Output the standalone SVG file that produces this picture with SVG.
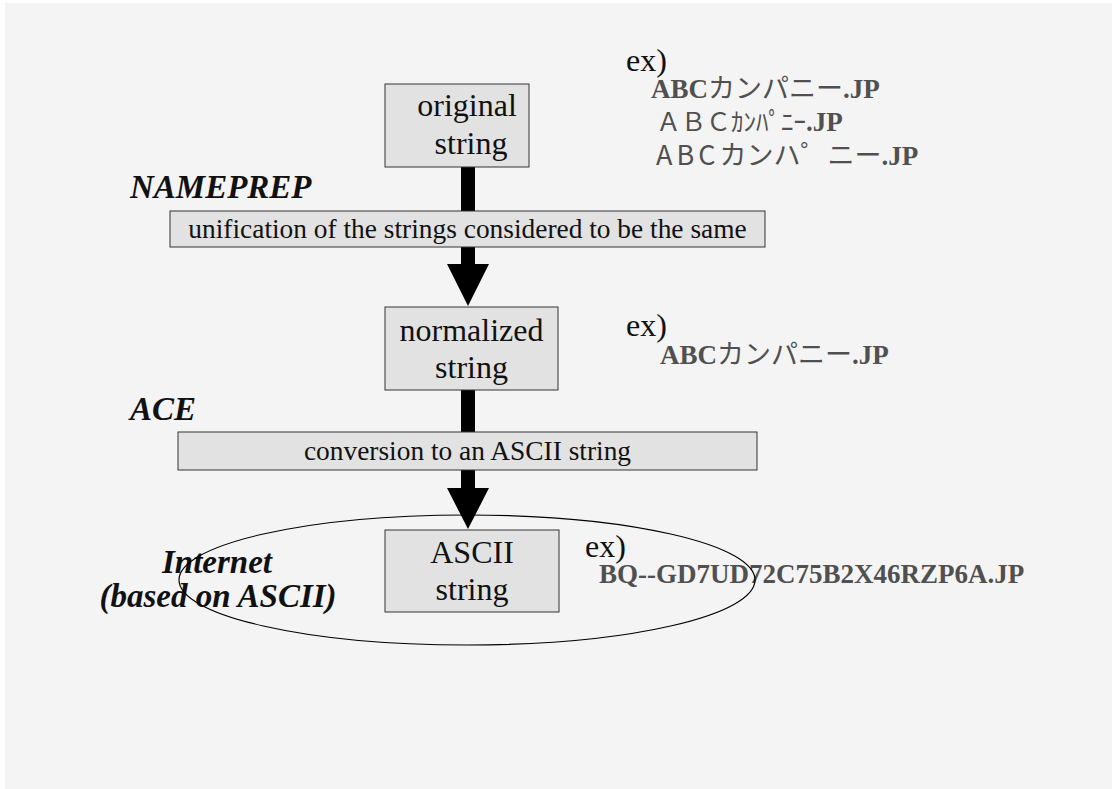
<svg xmlns="http://www.w3.org/2000/svg" width="1112" height="789" viewBox="0 0 1112 789">
  <style>
    .bg { fill: #f4f4f4; }
    .box { fill: #e2e2e2; stroke: #333333; stroke-width: 1; }
    .lbl { font-family: "Liberation Serif", "Times New Roman", serif; font-size: 32px; fill: #111111; }
    .bar { font-family: "Liberation Serif", "Times New Roman", serif; font-size: 27.4px; fill: #111111; }
    .step { font-family: "Liberation Serif", "Times New Roman", serif; font-size: 33px; font-weight: bold; font-style: italic; fill: #111111; }
    .ex { font-family: "Liberation Serif", "Times New Roman", serif; font-size: 32px; fill: #111111; }
    .sample { font-family: "Liberation Serif", "Times New Roman", serif; font-size: 27px; font-weight: bold; fill: #505050; }
    .kana { font-family: "Noto Sans CJK JP", sans-serif; font-weight: normal; }
    .shaft { fill: #000000; }
    .head { fill: #000000; }
    .net { fill: none; stroke: #000000; stroke-width: 1.2; }
  </style>

  <rect x="0" y="0" width="1112" height="789" fill="#ffffff"/>
  <rect class="bg" x="5" y="3" width="1107" height="786"/>

  <!-- connectors: thick shafts and arrowheads -->
  <g id="connectors">
    <rect class="shaft" x="461" y="167" width="14" height="98"/>
    <polygon class="head" points="447,264 489,264 468,306"/>
    <rect class="shaft" x="461" y="389" width="14" height="100"/>
    <polygon class="head" points="447,488 489,488 468,529"/>
  </g>

  <g id="original">
    <rect class="box" x="385" y="84" width="144" height="83"/>
    <text class="lbl" x="467" y="116" text-anchor="middle">original</text>
    <text class="lbl" x="471" y="154" text-anchor="middle">string</text>
  </g>

  <g id="original-examples">
    <text class="ex" x="626" y="71">ex)</text>
    <text class="sample" x="651" y="98">ABC<tspan class="kana">カンパニー</tspan>.JP</text>
    <text class="sample" x="656" y="131"><tspan class="kana" font-size="25">ＡＢＣｶﾝﾊﾟﾆｰ</tspan>.JP</text>
    <text class="sample" x="656" y="165"><tspan class="kana" letter-spacing="4">ABC</tspan><tspan class="kana">カンハ゜ニー</tspan>.JP</text>
  </g>

  <g id="nameprep">
    <text class="step" x="130" y="198">NAMEPREP</text>
    <rect class="box" x="170" y="211" width="595" height="36"/>
    <text class="bar" x="467.5" y="238" text-anchor="middle">unification of the strings considered to be the same</text>
  </g>

  <g id="normalized">
    <rect class="box" x="385" y="307" width="173" height="83"/>
    <text class="lbl" x="471.5" y="341" text-anchor="middle">normalized</text>
    <text class="lbl" x="471.5" y="378" text-anchor="middle">string</text>
  </g>

  <g id="normalized-example">
    <text class="ex" x="626" y="336">ex)</text>
    <text class="sample" x="660" y="364">ABC<tspan class="kana">カンパニー</tspan>.JP</text>
  </g>

  <g id="ace">
    <text class="step" x="130" y="420">ACE</text>
    <rect class="box" x="178" y="432" width="579" height="38"/>
    <text class="bar" x="467.5" y="460" text-anchor="middle">conversion to an ASCII string</text>
  </g>

  <g id="ascii">
    <rect class="box" x="385" y="530" width="174" height="82"/>
    <text class="lbl" x="472" y="563" text-anchor="middle">ASCII</text>
    <text class="lbl" x="472" y="600" text-anchor="middle">string</text>
  </g>

  <g id="ascii-example">
    <text class="ex" x="585" y="557">ex)</text>
    <text class="sample" x="599" y="583" font-size="27.5">BQ--GD7UD72C75B2X46RZP6A.JP</text>
  </g>

  <g id="internet">
    <text class="step" x="217" y="573" text-anchor="middle" font-size="32">Internet</text>
    <text class="step" x="218" y="607" text-anchor="middle" font-size="32">(based on ASCII)</text>
    <ellipse class="net" cx="467" cy="580" rx="288" ry="65"/>
  </g>
</svg>
